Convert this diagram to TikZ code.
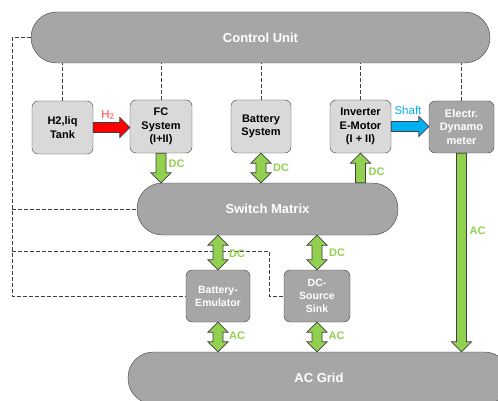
\documentclass[tikz,border=0pt]{standalone}
\usepackage{fontspec}
\setmainfont{Liberation Sans}
\usepackage{tikz}
\usetikzlibrary{calc}
\definecolor{boxgray}{HTML}{D9D9D9}
\definecolor{unitgray}{HTML}{A6A6A6}
\definecolor{edgegray}{HTML}{404040}
\definecolor{dcgreen}{HTML}{92D050}
\definecolor{shaftblue}{HTML}{00B0F0}
\definecolor{hred}{HTML}{FF0000}
\definecolor{hlabel}{HTML}{FF4040}
\tikzset{unit/.style = {draw = edgegray, fill = unitgray, rounded corners = 25.5pt, inner sep = 0,
                        text = white, font = \fontsize{13}{15}\selectfont\bfseries}}
\tikzset{comp/.style = {draw = edgegray, fill = boxgray, rounded corners = 6pt, inner sep = 0,
                        align = center, text = black, font = \fontsize{11}{13.5}\selectfont\bfseries}}
\tikzset{emul/.style = {comp, fill = unitgray, text = white, font = \fontsize{10.5}{13}\selectfont\bfseries}}
\tikzset{ctrl/.style = {draw = edgegray, line width = 0.8pt, dash pattern = on 4pt off 2pt}}
\tikzset{flow/.style = {inner sep = 0, text = dcgreen, font = \fontsize{11}{13}\selectfont\bfseries}}
% fat arrow, one head at the target
\tikzset{fat/.style = {draw = edgegray, line width = 0.7pt, line join = miter,
  to path = {-- ($(\tikztostart)!5pt!90:(\tikztotarget)$)
             -- ($(\tikztotarget)!10pt!(\tikztostart)!5pt!90:(\tikztotarget)$)
             -- ($(\tikztotarget)!10pt!(\tikztostart)!10pt!90:(\tikztotarget)$)
             -- (\tikztotarget)
             -- ($(\tikztotarget)!10pt!(\tikztostart)!10pt!-90:(\tikztotarget)$)
             -- ($(\tikztotarget)!10pt!(\tikztostart)!5pt!-90:(\tikztotarget)$)
             -- ($(\tikztostart)!5pt!-90:(\tikztotarget)$) -- cycle}}}
% fat arrow, heads at both ends
\tikzset{fatboth/.style = {draw = edgegray, line width = 0.7pt, line join = miter,
  to path = {-- ($(\tikztostart)!10pt!(\tikztotarget)!10pt!90:(\tikztotarget)$)
             -- ($(\tikztostart)!10pt!(\tikztotarget)!5pt!90:(\tikztotarget)$)
             -- ($(\tikztotarget)!10pt!(\tikztostart)!5pt!90:(\tikztotarget)$)
             -- ($(\tikztotarget)!10pt!(\tikztostart)!10pt!90:(\tikztotarget)$)
             -- (\tikztotarget)
             -- ($(\tikztotarget)!10pt!(\tikztostart)!10pt!-90:(\tikztotarget)$)
             -- ($(\tikztotarget)!10pt!(\tikztostart)!5pt!-90:(\tikztotarget)$)
             -- ($(\tikztostart)!10pt!(\tikztotarget)!5pt!-90:(\tikztotarget)$)
             -- ($(\tikztostart)!10pt!(\tikztotarget)!10pt!-90:(\tikztotarget)$) -- cycle}}}

\begin{document}
\begin{tikzpicture}[x = 1pt, y = -1pt]
      \useasboundingbox [fill = white] (0, 0) rectangle (498, 401);

      % buses
      \node [unit, minimum width = 459, minimum height = 51] (cu) at (260.5, 37.5) {Control Unit};
      \node [unit, minimum width = 261, minimum height = 52] (sw) at (267.5, 209) {Switch Matrix};
      \node [unit, minimum width = 382, minimum height = 52] (grid) at (319, 378) {AC Grid\hspace{8pt}};

      % components
      \node [comp, minimum width = 61, minimum height = 53] (tank) at (62.5, 127.5) {H2,liq\\Tank};
      \node [comp, minimum width = 62, minimum height = 53] (fc) at (161, 126.5) {FC\\System\\(I+II)};
      \node [comp, minimum width = 60, minimum height = 53] (bat) at (261, 126.5) {Battery\\System};
      \node [comp, minimum width = 61, minimum height = 53] (inv) at (360.5, 126.5) {Inverter\\E-Motor\\(I + II)};
      \node [emul, minimum width = 65, minimum height = 52, font = \fontsize{11}{13.5}\selectfont\bfseries]
            (dyn) at (461.5, 127) {Electr.\\Dynamo\\meter};
      \node [emul, minimum width = 64, minimum height = 52] (emu) at (218, 296) {Battery-\\Emulator};
      \node [emul, minimum width = 66, minimum height = 52] (dcs) at (317, 296) {DC-\\Source\\Sink};

      % control lines
      \foreach \n in {tank, fc, bat, inv, dyn}
        \draw [ctrl] (\n.north) -- (\n.north |- cu.south);
      \coordinate (bus) at (12, 37.5);
      \coordinate (jog) at (269, 251);
      \draw [ctrl] (cu.west) -- (bus) |- (emu.west);
      \draw [ctrl] (bus |- sw.west) -- (sw.west);
      \draw [ctrl] (bus |- jog) -- (jog) |- (dcs.west);

      % power flows
      \draw [fat, fill = hred] (tank.east) to (tank.east -| fc.west);
      \draw [fat, fill = shaftblue] (inv.east) to (inv.east -| dyn.west);
      \draw [fat, fill = dcgreen] (fc.south) to (fc.south |- sw.north);
      \draw [fatboth, fill = dcgreen] (bat.south) to (bat.south |- sw.north);
      \draw [fat, fill = dcgreen] (inv.south |- sw.north) to (inv.south);
      \draw [fat, fill = dcgreen] (dyn.south) to (dyn.south |- grid.north);
      \draw [fatboth, fill = dcgreen] (emu.north |- sw.south) to (emu.north);
      \draw [fatboth, fill = dcgreen] (emu.south) to (emu.south |- grid.north);
      \draw [fatboth, fill = dcgreen] (dcs.north |- sw.south) to (dcs.north);
      \draw [fatboth, fill = dcgreen] (dcs.south) to (dcs.south |- grid.north);

      % flow labels
      \node [inner sep = 0, text = hlabel, font = \fontsize{11.5}{13}\selectfont] (h2lbl) at (108, 115) {H\textsubscript{2}};
      \node [inner sep = 0, text = shaftblue, font = \fontsize{11.5}{13}\selectfont] (shaftlbl) at (408, 110) {Shaft};
      \node [flow] (dcfc) at (176.5, 164) {DC};
      \node [flow] (dcbat) at (281, 168) {DC};
      \node [flow] (dcinv) at (376.5, 172) {DC};
      \node [flow] (acdyn) at (477.5, 231) {AC};
      \node [flow] (dcemu) at (237, 254) {DC};
      \node [flow] (acemu) at (237, 336) {AC};
      \node [flow] (dcsrc) at (337, 253) {DC};
      \node [flow] (acsrc) at (336.5, 336) {AC};
\end{tikzpicture}
\end{document}
